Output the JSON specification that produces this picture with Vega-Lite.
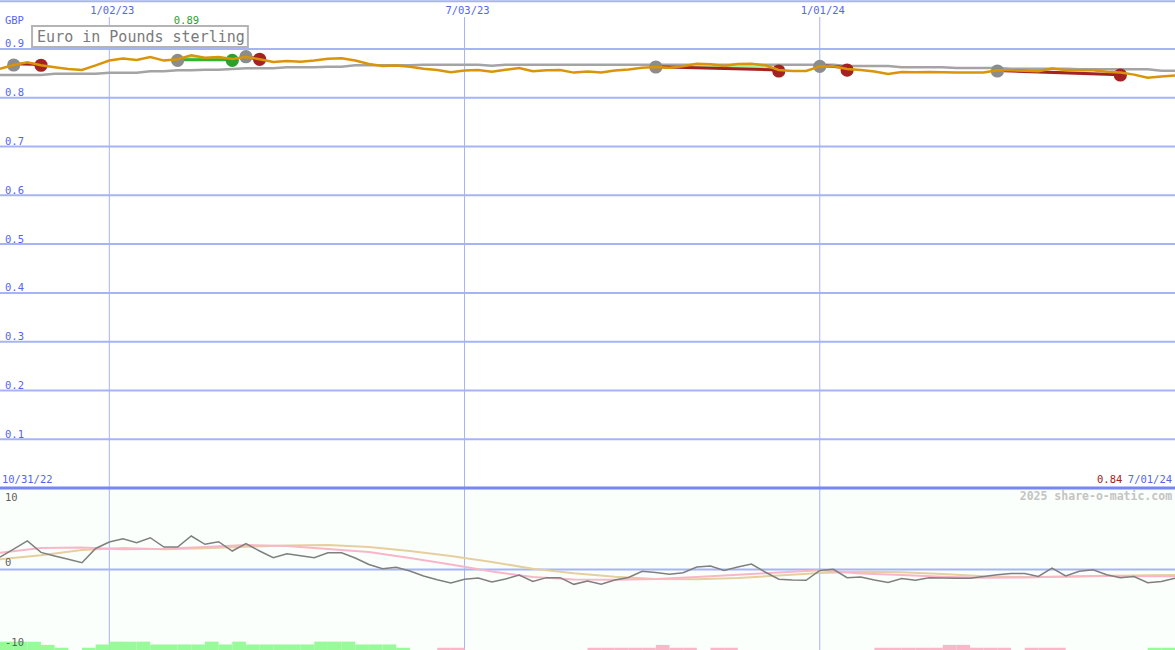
{
  "$schema": "https://vega.github.io/schema/vega-lite/v6.json",
  "description": "Euro in Pounds sterling, weekly price with moving average, trades and oscillator.",
  "background": "#ffffff",
  "padding": {"left": -5, "top": 0, "right": 0, "bottom": 0},
  "spacing": 0,
  "bounds": "flush",
  "config": {
    "view": {"stroke": null},
    "text": {"font": "DejaVu Sans Mono", "fontSize": 10.5}
  },
  "resolve": {"scale": {"x": "independent", "y": "independent", "color": "independent"}},
  "datasets": {
    "weekly": [
      {"date": "2022-11-07", "price": 0.8592, "ma": 0.8467, "osc": 1.53},
      {"date": "2022-11-14", "price": 0.8672, "ma": 0.8467, "osc": 2.5},
      {"date": "2022-11-21", "price": 0.873, "ma": 0.8467, "osc": 3.5},
      {"date": "2022-11-28", "price": 0.8667, "ma": 0.8467, "osc": 2.1},
      {"date": "2022-12-05", "price": 0.8627, "ma": 0.8493, "osc": 1.66},
      {"date": "2022-12-12", "price": 0.8592, "ma": 0.8493, "osc": 1.25},
      {"date": "2022-12-19", "price": 0.8569, "ma": 0.8493, "osc": 0.83},
      {"date": "2022-12-26", "price": 0.8663, "ma": 0.8493, "osc": 2.58},
      {"date": "2023-01-02", "price": 0.8764, "ma": 0.8514, "osc": 3.37},
      {"date": "2023-01-09", "price": 0.8807, "ma": 0.8514, "osc": 3.78},
      {"date": "2023-01-16", "price": 0.8776, "ma": 0.8514, "osc": 3.29},
      {"date": "2023-01-23", "price": 0.8836, "ma": 0.8542, "osc": 3.9},
      {"date": "2023-01-30", "price": 0.8762, "ma": 0.8542, "osc": 2.76},
      {"date": "2023-02-06", "price": 0.8791, "ma": 0.8563, "osc": 2.76},
      {"date": "2023-02-13", "price": 0.8873, "ma": 0.8563, "osc": 4.11},
      {"date": "2023-02-20", "price": 0.8823, "ma": 0.8575, "osc": 3.09},
      {"date": "2023-02-27", "price": 0.8836, "ma": 0.8575, "osc": 3.41},
      {"date": "2023-03-06", "price": 0.8795, "ma": 0.859, "osc": 2.27},
      {"date": "2023-03-13", "price": 0.8838, "ma": 0.8604, "osc": 3.17},
      {"date": "2023-03-20", "price": 0.8791, "ma": 0.8604, "osc": 2.27},
      {"date": "2023-03-27", "price": 0.8733, "ma": 0.8604, "osc": 1.45},
      {"date": "2023-04-03", "price": 0.8754, "ma": 0.8624, "osc": 1.94},
      {"date": "2023-04-10", "price": 0.8739, "ma": 0.8624, "osc": 1.69},
      {"date": "2023-04-17", "price": 0.8762, "ma": 0.8624, "osc": 1.45},
      {"date": "2023-04-24", "price": 0.8799, "ma": 0.8637, "osc": 2.06},
      {"date": "2023-05-01", "price": 0.8811, "ma": 0.8637, "osc": 2.06},
      {"date": "2023-05-08", "price": 0.8764, "ma": 0.8665, "osc": 1.41},
      {"date": "2023-05-15", "price": 0.8692, "ma": 0.8665, "osc": 0.61},
      {"date": "2023-05-22", "price": 0.8653, "ma": 0.8665, "osc": 0.1},
      {"date": "2023-05-29", "price": 0.8663, "ma": 0.8665, "osc": 0.28},
      {"date": "2023-06-05", "price": 0.8637, "ma": 0.8665, "osc": -0.18},
      {"date": "2023-06-12", "price": 0.8596, "ma": 0.8678, "osc": -0.8},
      {"date": "2023-06-19", "price": 0.8569, "ma": 0.8678, "osc": -1.25},
      {"date": "2023-06-26", "price": 0.8524, "ma": 0.8678, "osc": -1.66},
      {"date": "2023-07-03", "price": 0.8557, "ma": 0.8678, "osc": -1.2},
      {"date": "2023-07-10", "price": 0.8567, "ma": 0.8678, "osc": -1.04},
      {"date": "2023-07-17", "price": 0.8536, "ma": 0.8655, "osc": -1.53},
      {"date": "2023-07-24", "price": 0.8575, "ma": 0.8678, "osc": -1.17},
      {"date": "2023-07-31", "price": 0.8612, "ma": 0.8678, "osc": -0.67},
      {"date": "2023-08-07", "price": 0.8545, "ma": 0.8678, "osc": -1.47},
      {"date": "2023-08-14", "price": 0.8563, "ma": 0.8678, "osc": -1.0},
      {"date": "2023-08-21", "price": 0.8569, "ma": 0.8678, "osc": -1.0},
      {"date": "2023-08-28", "price": 0.8516, "ma": 0.8678, "osc": -1.82},
      {"date": "2023-09-04", "price": 0.854, "ma": 0.8678, "osc": -1.41},
      {"date": "2023-09-11", "price": 0.8516, "ma": 0.8678, "osc": -1.82},
      {"date": "2023-09-18", "price": 0.8557, "ma": 0.8678, "osc": -1.29},
      {"date": "2023-09-25", "price": 0.858, "ma": 0.8678, "osc": -0.98},
      {"date": "2023-10-02", "price": 0.8614, "ma": 0.8678, "osc": -0.21},
      {"date": "2023-10-09", "price": 0.8631, "ma": 0.8678, "osc": -0.38},
      {"date": "2023-10-16", "price": 0.8618, "ma": 0.8678, "osc": -0.59},
      {"date": "2023-10-23", "price": 0.8645, "ma": 0.8678, "osc": -0.39},
      {"date": "2023-10-30", "price": 0.8696, "ma": 0.8678, "osc": 0.31},
      {"date": "2023-11-06", "price": 0.8688, "ma": 0.8678, "osc": 0.43},
      {"date": "2023-11-13", "price": 0.8651, "ma": 0.8678, "osc": -0.12},
      {"date": "2023-11-20", "price": 0.869, "ma": 0.8678, "osc": 0.31},
      {"date": "2023-11-27", "price": 0.8696, "ma": 0.8678, "osc": 0.67},
      {"date": "2023-12-04", "price": 0.8665, "ma": 0.8678, "osc": -0.31},
      {"date": "2023-12-11", "price": 0.857, "ma": 0.8678, "osc": -1.2},
      {"date": "2023-12-18", "price": 0.8549, "ma": 0.8678, "osc": -1.29},
      {"date": "2023-12-25", "price": 0.8549, "ma": 0.8678, "osc": -1.33},
      {"date": "2024-01-01", "price": 0.8643, "ma": 0.8678, "osc": -0.12},
      {"date": "2024-01-08", "price": 0.8645, "ma": 0.8678, "osc": 0.02},
      {"date": "2024-01-15", "price": 0.859, "ma": 0.8651, "osc": -1.0},
      {"date": "2024-01-22", "price": 0.8569, "ma": 0.8651, "osc": -0.92},
      {"date": "2024-01-29", "price": 0.8538, "ma": 0.8651, "osc": -1.29},
      {"date": "2024-02-05", "price": 0.8489, "ma": 0.8651, "osc": -1.6},
      {"date": "2024-02-12", "price": 0.8528, "ma": 0.8624, "osc": -1.1},
      {"date": "2024-02-19", "price": 0.8524, "ma": 0.8624, "osc": -1.31},
      {"date": "2024-02-26", "price": 0.853, "ma": 0.8624, "osc": -1.02},
      {"date": "2024-03-04", "price": 0.8524, "ma": 0.8624, "osc": -1.04},
      {"date": "2024-03-11", "price": 0.8518, "ma": 0.861, "osc": -1.07},
      {"date": "2024-03-18", "price": 0.8516, "ma": 0.861, "osc": -1.08},
      {"date": "2024-03-25", "price": 0.852, "ma": 0.861, "osc": -0.86},
      {"date": "2024-04-01", "price": 0.8563, "ma": 0.861, "osc": -0.65},
      {"date": "2024-04-08", "price": 0.8563, "ma": 0.8596, "osc": -0.49},
      {"date": "2024-04-15", "price": 0.8553, "ma": 0.8596, "osc": -0.49},
      {"date": "2024-04-22", "price": 0.8543, "ma": 0.8596, "osc": -0.86},
      {"date": "2024-04-29", "price": 0.8598, "ma": 0.8596, "osc": 0.18},
      {"date": "2024-05-06", "price": 0.8567, "ma": 0.8596, "osc": -0.8},
      {"date": "2024-05-13", "price": 0.8563, "ma": 0.8583, "osc": -0.22},
      {"date": "2024-05-20", "price": 0.8563, "ma": 0.8583, "osc": -0.04},
      {"date": "2024-05-27", "price": 0.8532, "ma": 0.8583, "osc": -0.64},
      {"date": "2024-06-03", "price": 0.8516, "ma": 0.8583, "osc": -1.0},
      {"date": "2024-06-10", "price": 0.8475, "ma": 0.8583, "osc": -0.86},
      {"date": "2024-06-17", "price": 0.8411, "ma": 0.8583, "osc": -1.62},
      {"date": "2024-06-24", "price": 0.8436, "ma": 0.8555, "osc": -1.47},
      {"date": "2024-07-01", "price": 0.8459, "ma": 0.8555, "osc": -1.08}
    ],
    "signals": [
      {"date": "2022-11-07", "pink": 2.06, "tan": 1.25},
      {"date": "2022-11-28", "pink": 2.64, "tan": 1.74},
      {"date": "2022-12-19", "pink": 2.7, "tan": 2.39},
      {"date": "2023-01-09", "pink": 2.48, "tan": 2.64},
      {"date": "2023-01-30", "pink": 2.55, "tan": 2.49},
      {"date": "2023-02-20", "pink": 2.76, "tan": 2.61},
      {"date": "2023-03-13", "pink": 3.0, "tan": 2.8},
      {"date": "2023-04-03", "pink": 2.88, "tan": 2.93},
      {"date": "2023-04-24", "pink": 2.52, "tan": 3.0},
      {"date": "2023-05-15", "pink": 2.15, "tan": 2.76},
      {"date": "2023-06-05", "pink": 1.41, "tan": 2.27},
      {"date": "2023-06-26", "pink": 0.61, "tan": 1.66},
      {"date": "2023-07-17", "pink": -0.25, "tan": 0.92},
      {"date": "2023-08-07", "pink": -0.92, "tan": 0.1},
      {"date": "2023-08-28", "pink": -1.23, "tan": -0.47},
      {"date": "2023-09-18", "pink": -1.25, "tan": -0.88},
      {"date": "2023-10-09", "pink": -1.17, "tan": -1.17},
      {"date": "2023-10-30", "pink": -0.92, "tan": -1.2},
      {"date": "2023-11-20", "pink": -0.64, "tan": -1.04},
      {"date": "2023-12-11", "pink": -0.37, "tan": -0.74},
      {"date": "2024-01-01", "pink": -0.1, "tan": -0.43},
      {"date": "2024-01-22", "pink": -0.49, "tan": -0.28},
      {"date": "2024-02-12", "pink": -0.67, "tan": -0.33},
      {"date": "2024-03-04", "pink": -0.88, "tan": -0.55},
      {"date": "2024-03-25", "pink": -1.0, "tan": -0.83},
      {"date": "2024-04-15", "pink": -0.98, "tan": -0.92},
      {"date": "2024-05-06", "pink": -0.86, "tan": -0.88},
      {"date": "2024-05-27", "pink": -0.77, "tan": -0.8},
      {"date": "2024-06-17", "pink": -0.83, "tan": -0.71},
      {"date": "2024-07-01", "pink": -0.83, "tan": -0.67}
    ],
    "bars": [
      {"date": "2022-11-07", "end": "2022-11-14", "top": -8.85, "sign": "pos"},
      {"date": "2022-11-14", "end": "2022-11-21", "top": -8.85, "sign": "pos"},
      {"date": "2022-11-21", "end": "2022-11-28", "top": -8.85, "sign": "pos"},
      {"date": "2022-11-28", "end": "2022-12-05", "top": -9.25, "sign": "pos"},
      {"date": "2022-12-05", "end": "2022-12-12", "top": -9.6, "sign": "pos"},
      {"date": "2022-12-19", "end": "2022-12-26", "top": -9.6, "sign": "pos"},
      {"date": "2022-12-26", "end": "2023-01-02", "top": -9.2, "sign": "pos"},
      {"date": "2023-01-02", "end": "2023-01-09", "top": -8.85, "sign": "pos"},
      {"date": "2023-01-09", "end": "2023-01-16", "top": -8.85, "sign": "pos"},
      {"date": "2023-01-16", "end": "2023-01-23", "top": -8.85, "sign": "pos"},
      {"date": "2023-01-23", "end": "2023-01-30", "top": -9.2, "sign": "pos"},
      {"date": "2023-01-30", "end": "2023-02-06", "top": -9.2, "sign": "pos"},
      {"date": "2023-02-06", "end": "2023-02-13", "top": -9.2, "sign": "pos"},
      {"date": "2023-02-13", "end": "2023-02-20", "top": -9.2, "sign": "pos"},
      {"date": "2023-02-20", "end": "2023-02-27", "top": -8.85, "sign": "pos"},
      {"date": "2023-02-27", "end": "2023-03-06", "top": -9.2, "sign": "pos"},
      {"date": "2023-03-06", "end": "2023-03-13", "top": -8.85, "sign": "pos"},
      {"date": "2023-03-13", "end": "2023-03-20", "top": -9.2, "sign": "pos"},
      {"date": "2023-03-20", "end": "2023-03-27", "top": -9.2, "sign": "pos"},
      {"date": "2023-03-27", "end": "2023-04-03", "top": -9.2, "sign": "pos"},
      {"date": "2023-04-03", "end": "2023-04-10", "top": -9.2, "sign": "pos"},
      {"date": "2023-04-10", "end": "2023-04-17", "top": -9.2, "sign": "pos"},
      {"date": "2023-04-17", "end": "2023-04-24", "top": -8.85, "sign": "pos"},
      {"date": "2023-04-24", "end": "2023-05-01", "top": -8.85, "sign": "pos"},
      {"date": "2023-05-01", "end": "2023-05-08", "top": -8.85, "sign": "pos"},
      {"date": "2023-05-08", "end": "2023-05-15", "top": -9.2, "sign": "pos"},
      {"date": "2023-05-15", "end": "2023-05-22", "top": -9.2, "sign": "pos"},
      {"date": "2023-05-22", "end": "2023-05-29", "top": -9.2, "sign": "pos"},
      {"date": "2023-05-29", "end": "2023-06-05", "top": -9.6, "sign": "pos"},
      {"date": "2023-06-19", "end": "2023-06-26", "top": -9.6, "sign": "neg"},
      {"date": "2023-06-26", "end": "2023-07-03", "top": -9.6, "sign": "neg"},
      {"date": "2023-09-04", "end": "2023-09-11", "top": -9.6, "sign": "neg"},
      {"date": "2023-09-11", "end": "2023-09-18", "top": -9.6, "sign": "neg"},
      {"date": "2023-09-18", "end": "2023-09-25", "top": -9.6, "sign": "neg"},
      {"date": "2023-09-25", "end": "2023-10-02", "top": -9.6, "sign": "neg"},
      {"date": "2023-10-02", "end": "2023-10-09", "top": -9.6, "sign": "neg"},
      {"date": "2023-10-09", "end": "2023-10-16", "top": -9.25, "sign": "neg"},
      {"date": "2023-10-16", "end": "2023-10-23", "top": -9.6, "sign": "neg"},
      {"date": "2023-10-23", "end": "2023-10-30", "top": -9.6, "sign": "neg"},
      {"date": "2023-11-06", "end": "2023-11-13", "top": -9.6, "sign": "neg"},
      {"date": "2023-11-13", "end": "2023-11-20", "top": -9.6, "sign": "neg"},
      {"date": "2024-01-29", "end": "2024-02-05", "top": -9.6, "sign": "neg"},
      {"date": "2024-02-05", "end": "2024-02-12", "top": -9.6, "sign": "neg"},
      {"date": "2024-02-12", "end": "2024-02-19", "top": -9.6, "sign": "neg"},
      {"date": "2024-02-19", "end": "2024-02-26", "top": -9.6, "sign": "neg"},
      {"date": "2024-02-26", "end": "2024-03-04", "top": -9.6, "sign": "neg"},
      {"date": "2024-03-04", "end": "2024-03-11", "top": -9.25, "sign": "neg"},
      {"date": "2024-03-11", "end": "2024-03-18", "top": -9.25, "sign": "neg"},
      {"date": "2024-03-18", "end": "2024-03-25", "top": -9.6, "sign": "neg"},
      {"date": "2024-03-25", "end": "2024-04-01", "top": -9.6, "sign": "neg"},
      {"date": "2024-04-01", "end": "2024-04-08", "top": -9.6, "sign": "neg"},
      {"date": "2024-04-15", "end": "2024-04-22", "top": -9.6, "sign": "neg"},
      {"date": "2024-04-22", "end": "2024-04-29", "top": -9.6, "sign": "neg"},
      {"date": "2024-04-29", "end": "2024-05-06", "top": -9.6, "sign": "neg"},
      {"date": "2024-06-17", "end": "2024-06-24", "top": -9.6, "sign": "pos"},
      {"date": "2024-06-24", "end": "2024-07-01", "top": -9.6, "sign": "pos"}
    ],
    "grid": [
      {"date": "2023-01-02"},
      {"date": "2023-07-03"},
      {"date": "2024-01-01"}
    ],
    "priceTicks": [
      {"v": 0.1}, {"v": 0.2}, {"v": 0.3}, {"v": 0.4}, {"v": 0.5},
      {"v": 0.6}, {"v": 0.7}, {"v": 0.8}, {"v": 0.9}
    ],
    "circles": [
      {"date": "2022-11-14", "value": 0.8672, "kind": "entry"},
      {"date": "2022-11-28", "value": 0.8667, "kind": "loss"},
      {"date": "2023-02-06", "value": 0.8767, "kind": "entry"},
      {"date": "2023-03-06", "value": 0.8767, "kind": "win"},
      {"date": "2023-03-13", "value": 0.8842, "kind": "entry"},
      {"date": "2023-03-20", "value": 0.8789, "kind": "loss"},
      {"date": "2023-10-09", "value": 0.8631, "kind": "entry"},
      {"date": "2023-12-11", "value": 0.8549, "kind": "loss"},
      {"date": "2024-01-01", "value": 0.8643, "kind": "entry"},
      {"date": "2024-01-15", "value": 0.8569, "kind": "loss"},
      {"date": "2024-04-01", "value": 0.8549, "kind": "entry"},
      {"date": "2024-06-03", "value": 0.8467, "kind": "loss"}
    ],
    "tradeLines": [
      {"trade": 1, "date": "2022-11-14", "value": 0.8695, "result": "loss"},
      {"trade": 1, "date": "2022-11-28", "value": 0.868, "result": "loss"},
      {"trade": 2, "date": "2023-02-06", "value": 0.878, "result": "win"},
      {"trade": 2, "date": "2023-03-06", "value": 0.878, "result": "win"},
      {"trade": 3, "date": "2023-03-13", "value": 0.8842, "result": "loss"},
      {"trade": 3, "date": "2023-03-20", "value": 0.8789, "result": "loss"},
      {"trade": 4, "date": "2023-10-09", "value": 0.8638, "result": "loss"},
      {"trade": 4, "date": "2023-12-11", "value": 0.857, "result": "loss"},
      {"trade": 5, "date": "2024-01-01", "value": 0.866, "result": "loss"},
      {"trade": 5, "date": "2024-01-15", "value": 0.862, "result": "loss"},
      {"trade": 6, "date": "2024-04-01", "value": 0.856, "result": "loss"},
      {"trade": 6, "date": "2024-06-03", "value": 0.847, "result": "loss"}
    ],
    "tradeFills": [
      {"trade": 1, "date": "2022-11-14", "price": 0.8672, "base": 0.8695, "fill": "down"},
      {"trade": 1, "date": "2022-11-21", "price": 0.873, "base": 0.8688, "fill": "down"},
      {"trade": 1, "date": "2022-11-28", "price": 0.8667, "base": 0.868, "fill": "down"},
      {"trade": 2, "date": "2023-02-06", "price": 0.8791, "base": 0.878, "fill": "up"},
      {"trade": 2, "date": "2023-02-13", "price": 0.8873, "base": 0.878, "fill": "up"},
      {"trade": 2, "date": "2023-02-20", "price": 0.8823, "base": 0.878, "fill": "up"},
      {"trade": 2, "date": "2023-02-27", "price": 0.8836, "base": 0.878, "fill": "up"},
      {"trade": 2, "date": "2023-03-06", "price": 0.8795, "base": 0.878, "fill": "up"},
      {"trade": 4, "date": "2023-10-09", "price": 0.8631, "base": 0.8638, "fill": "up"},
      {"trade": 4, "date": "2023-10-16", "price": 0.8618, "base": 0.863, "fill": "up"},
      {"trade": 4, "date": "2023-10-23", "price": 0.8645, "base": 0.8623, "fill": "up"},
      {"trade": 4, "date": "2023-10-30", "price": 0.8696, "base": 0.8615, "fill": "up"},
      {"trade": 4, "date": "2023-11-06", "price": 0.8688, "base": 0.8608, "fill": "up"},
      {"trade": 4, "date": "2023-11-13", "price": 0.8651, "base": 0.86, "fill": "up"},
      {"trade": 4, "date": "2023-11-20", "price": 0.869, "base": 0.8593, "fill": "up"},
      {"trade": 4, "date": "2023-11-27", "price": 0.8696, "base": 0.8585, "fill": "up"},
      {"trade": 4, "date": "2023-12-04", "price": 0.8665, "base": 0.8578, "fill": "up"},
      {"trade": 4, "date": "2023-12-11", "price": 0.857, "base": 0.857, "fill": "up"}
    ]
  },
  "vconcat": [
    {
      "width": 1175,
      "height": 487,
      "resolve": {"scale": {"color": "independent"}},
      "layer": [
        {
          "data": {"name": "priceTicks"},
          "mark": {"type": "rule", "color": "#a6b3f4", "strokeWidth": 2},
          "encoding": {
            "y": {"field": "v", "type": "quantitative", "scale": {"domain": [0, 0.9984], "nice": false, "zero": false}, "axis": null}
          }
        },
        {
          "data": {"name": "priceTicks"},
          "mark": {"type": "text", "align": "left", "baseline": "alphabetic", "dx": 5, "dy": -1.5, "color": "#5566ee"},
          "encoding": {
            "x": {"datum": {"year": 2022, "month": 11, "date": 7}, "type": "temporal", "scale": {"domain": [{"year": 2022, "month": 11, "date": 7}, {"year": 2024, "month": 7, "date": 1}]}, "axis": null},
            "y": {"field": "v", "type": "quantitative", "axis": null},
            "text": {"field": "v", "type": "quantitative", "format": ".1f"}
          }
        },
        {
          "data": {"name": "grid"},
          "mark": {"type": "rule", "color": "#a6b3f4", "strokeWidth": 1},
          "encoding": {
            "x": {"field": "date", "type": "temporal", "axis": null},
            "y": {"datum": 0, "type": "quantitative", "axis": null},
            "y2": {"datum": 0.9656}
          }
        },
        {
          "data": {"name": "grid"},
          "mark": {"type": "text", "align": "center", "baseline": "alphabetic", "dx": 3, "dy": 12.5, "color": "#5566ee"},
          "encoding": {
            "x": {"field": "date", "type": "temporal", "axis": null},
            "y": {"datum": 0.9984, "type": "quantitative", "axis": null},
            "text": {"field": "date", "type": "temporal", "format": "%-m/%d/%y"}
          }
        },
        {
          "data": {"values": [{}]},
          "mark": {"type": "rule", "color": "#a6b3f4", "strokeWidth": 2},
          "encoding": {"y": {"datum": 0.998, "type": "quantitative", "axis": null}}
        },
        {
          "data": {"name": "weekly"},
          "mark": {"type": "line", "color": "#a4a4a4", "strokeWidth": 2.5},
          "encoding": {
            "x": {"field": "date", "type": "temporal", "axis": null},
            "y": {"field": "ma", "type": "quantitative", "axis": null}
          }
        },
        {
          "data": {"name": "tradeFills"},
          "mark": {"type": "area", "opacity": 1},
          "encoding": {
            "x": {"field": "date", "type": "temporal", "axis": null},
            "y": {"field": "price", "type": "quantitative", "axis": null},
            "y2": {"field": "base"},
            "detail": {"field": "trade", "type": "nominal"},
            "color": {"field": "fill", "type": "nominal", "scale": {"domain": ["up", "down"], "range": ["#a6f5a0", "#f7b6c6"]}, "legend": null}
          }
        },
        {
          "data": {"name": "tradeLines"},
          "mark": {"type": "line", "strokeWidth": 3},
          "encoding": {
            "x": {"field": "date", "type": "temporal", "axis": null},
            "y": {"field": "value", "type": "quantitative", "axis": null},
            "detail": {"field": "trade", "type": "nominal"},
            "color": {"field": "result", "type": "nominal", "scale": {"domain": ["loss", "win"], "range": ["#a52222", "#32b432"]}, "legend": null}
          }
        },
        {
          "data": {"name": "circles"},
          "mark": {"type": "circle", "size": 175, "opacity": 1},
          "encoding": {
            "x": {"field": "date", "type": "temporal", "axis": null},
            "y": {"field": "value", "type": "quantitative", "axis": null},
            "color": {"field": "kind", "type": "nominal", "scale": {"domain": ["entry", "loss", "win"], "range": ["#8c8c8c", "#a52222", "#2e9e2e"]}, "legend": null}
          }
        },
        {
          "data": {"name": "weekly"},
          "mark": {"type": "line", "color": "#d9940a", "strokeWidth": 2.5},
          "encoding": {
            "x": {"field": "date", "type": "temporal", "axis": null},
            "y": {"field": "price", "type": "quantitative", "axis": null}
          }
        },
        {
          "data": {"values": [{}]},
          "mark": {"type": "text", "align": "left", "baseline": "middle", "color": "#5566ee"},
          "encoding": {
            "x": {"datum": {"year": 2022, "month": 11, "date": 9, "hours": 12}, "type": "temporal", "axis": null},
            "y": {"datum": 0.9574, "type": "quantitative", "axis": null},
            "text": {"value": "GBP"}
          }
        },
        {
          "data": {"values": [{}]},
          "mark": {"type": "text", "align": "center", "baseline": "middle", "color": "#2e9e2e"},
          "encoding": {
            "x": {"datum": {"year": 2023, "month": 2, "date": 10, "hours": 12}, "type": "temporal", "axis": null},
            "y": {"datum": 0.9574, "type": "quantitative", "axis": null},
            "text": {"value": "0.89"}
          }
        },
        {
          "data": {"values": [{}]},
          "mark": {"type": "rect", "fill": "#ffffff", "stroke": "#b4b4b4", "strokeWidth": 2},
          "encoding": {
            "x": {"datum": {"year": 2022, "month": 11, "date": 23, "hours": 10}, "type": "temporal", "axis": null},
            "x2": {"datum": {"year": 2023, "month": 3, "date": 14}},
            "y": {"datum": 0.9471, "type": "quantitative", "axis": null},
            "y2": {"datum": 0.9041}
          }
        },
        {
          "data": {"values": [{}]},
          "mark": {"type": "text", "align": "left", "baseline": "middle", "fontSize": 15, "color": "#7a7a7a"},
          "encoding": {
            "x": {"datum": {"year": 2022, "month": 11, "date": 26}, "type": "temporal", "axis": null},
            "y": {"datum": 0.9256, "type": "quantitative", "axis": null},
            "text": {"value": "Euro in Pounds sterling"}
          }
        },
        {
          "data": {"values": [{}]},
          "mark": {"type": "text", "align": "left", "baseline": "middle", "color": "#5566ee"},
          "encoding": {
            "x": {"datum": {"year": 2022, "month": 11, "date": 8}, "type": "temporal", "axis": null},
            "y": {"datum": 0.0164, "type": "quantitative", "axis": null},
            "text": {"value": "10/31/22"}
          }
        },
        {
          "data": {"values": [{}]},
          "mark": {"type": "text", "align": "right", "baseline": "middle", "color": "#a52222"},
          "encoding": {
            "x": {"datum": {"year": 2024, "month": 6, "date": 4}, "type": "temporal", "axis": null},
            "y": {"datum": 0.0164, "type": "quantitative", "axis": null},
            "text": {"value": "0.84"}
          }
        },
        {
          "data": {"values": [{}]},
          "mark": {"type": "text", "align": "right", "baseline": "middle", "color": "#5566ee"},
          "encoding": {
            "x": {"datum": {"year": 2024, "month": 6, "date": 29, "hours": 12}, "type": "temporal", "axis": null},
            "y": {"datum": 0.0164, "type": "quantitative", "axis": null},
            "text": {"value": "7/01/24"}
          }
        }
      ]
    },
    {
      "width": 1175,
      "height": 163,
      "layer": [
        {
          "data": {"values": [{}]},
          "mark": {"type": "rect", "fill": "#fbfffb"},
          "encoding": {
            "x": {
              "datum": {"year": 2022, "month": 11, "date": 7},
              "type": "temporal",
              "scale": {"domain": [{"year": 2022, "month": 11, "date": 7}, {"year": 2024, "month": 7, "date": 1}]},
              "axis": null
            },
            "x2": {"datum": {"year": 2024, "month": 7, "date": 1}},
            "y": {"datum": -10, "type": "quantitative", "scale": {"domain": [-10, 10], "nice": false, "zero": false}, "axis": null},
            "y2": {"datum": 10}
          }
        },
        {
          "data": {"name": "grid"},
          "mark": {"type": "rule", "color": "#a6b3f4", "strokeWidth": 1},
          "encoding": {
            "x": {"field": "date", "type": "temporal", "axis": null},
            "y": {"datum": -10, "type": "quantitative", "axis": null},
            "y2": {"datum": 10}
          }
        },
        {
          "data": {"values": [{}]},
          "mark": {"type": "rule", "color": "#7686f2", "strokeWidth": 3},
          "encoding": {"y": {"datum": 10, "type": "quantitative", "axis": null}}
        },
        {
          "data": {"values": [{}]},
          "mark": {"type": "rule", "color": "#a6b3f4", "strokeWidth": 2},
          "encoding": {"y": {"datum": 0, "type": "quantitative", "axis": null}}
        },
        {
          "data": {"name": "bars"},
          "mark": {"type": "bar", "opacity": 1},
          "encoding": {
            "x": {"field": "date", "type": "temporal", "axis": null},
            "x2": {"field": "end"},
            "y": {"field": "top", "type": "quantitative", "axis": null},
            "y2": {"datum": -10},
            "color": {"field": "sign", "type": "nominal", "scale": {"domain": ["pos", "neg"], "range": ["#98fa98", "#f9b7ca"]}, "legend": null}
          }
        },
        {
          "data": {"name": "signals"},
          "mark": {"type": "line", "color": "#e6cf9f", "strokeWidth": 2},
          "encoding": {
            "x": {"field": "date", "type": "temporal", "axis": null},
            "y": {"field": "tan", "type": "quantitative", "axis": null}
          }
        },
        {
          "data": {"name": "signals"},
          "mark": {"type": "line", "color": "#f9b6c9", "strokeWidth": 2},
          "encoding": {
            "x": {"field": "date", "type": "temporal", "axis": null},
            "y": {"field": "pink", "type": "quantitative", "axis": null}
          }
        },
        {
          "data": {"name": "weekly"},
          "mark": {"type": "line", "color": "#7f7f7f", "strokeWidth": 1.5},
          "encoding": {
            "x": {"field": "date", "type": "temporal", "axis": null},
            "y": {"field": "osc", "type": "quantitative", "axis": null}
          }
        },
        {
          "data": {"values": [{}]},
          "mark": {"type": "text", "align": "left", "baseline": "top", "dx": 5, "dy": 5, "color": "#5f5f5f"},
          "encoding": {
            "x": {"datum": {"year": 2022, "month": 11, "date": 7}, "type": "temporal", "axis": null},
            "y": {"datum": 10, "type": "quantitative", "axis": null},
            "text": {"value": "10"}
          }
        },
        {
          "data": {"values": [{}]},
          "mark": {"type": "text", "align": "left", "baseline": "alphabetic", "dx": 5, "dy": -3.5, "color": "#5f5f5f"},
          "encoding": {
            "x": {"datum": {"year": 2022, "month": 11, "date": 7}, "type": "temporal", "axis": null},
            "y": {"datum": 0, "type": "quantitative", "axis": null},
            "text": {"value": "0"}
          }
        },
        {
          "data": {"values": [{}]},
          "mark": {"type": "text", "align": "left", "baseline": "alphabetic", "dx": 5, "dy": -5.5, "color": "#5f5f5f"},
          "encoding": {
            "x": {"datum": {"year": 2022, "month": 11, "date": 7}, "type": "temporal", "axis": null},
            "y": {"datum": -10, "type": "quantitative", "axis": null},
            "text": {"value": "-10"}
          }
        },
        {
          "data": {"values": [{}]},
          "mark": {"type": "text", "align": "right", "baseline": "middle", "fontSize": 11.5, "fontWeight": "bold", "color": "#c4c4c4"},
          "encoding": {
            "x": {"datum": {"year": 2024, "month": 6, "date": 29, "hours": 12}, "type": "temporal", "axis": null},
            "y": {"datum": 8.9, "type": "quantitative", "axis": null},
            "text": {"value": "2025 share-o-matic.com"}
          }
        }
      ]
    }
  ]
}
